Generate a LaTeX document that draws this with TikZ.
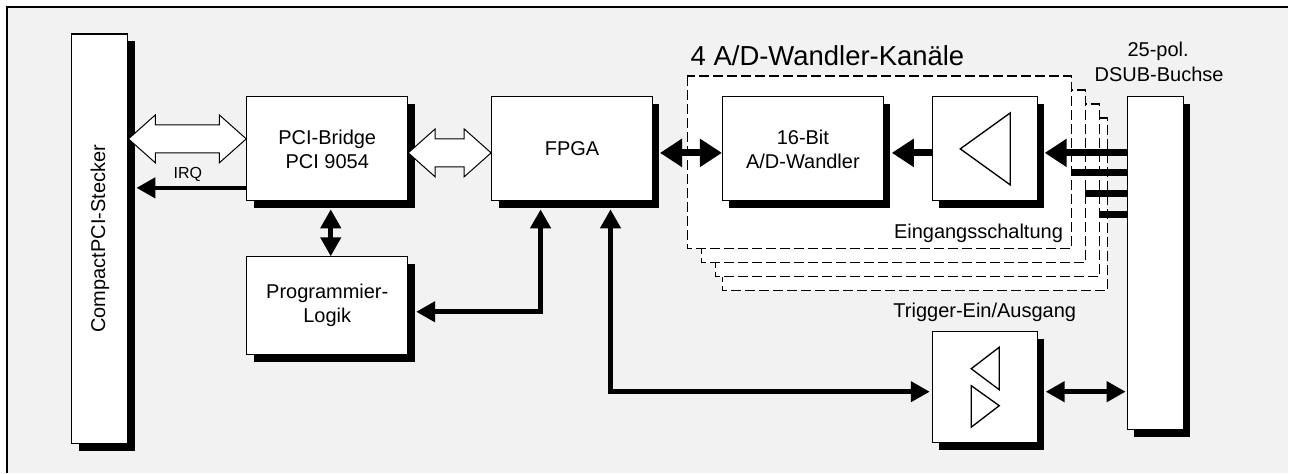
\documentclass[tikz,border=0pt]{standalone}
\usepackage{fontspec}
\setmainfont{Liberation Sans}
\usetikzlibrary{arrows.meta,shadows,calc}
\definecolor{bg}{HTML}{F2F2F2}
\tikzset{
  thinhead/.tip={Triangle[length=14.25pt,width=15pt]},
  bighead/.tip={Triangle[length=16.5pt,width=20.25pt]},
}
\begin{document}
\begin{tikzpicture}[x=0.75pt,y=-0.75pt,
  blk/.style={draw, line width=0.8pt, fill=white, inner sep=0pt, align=center,
     font=\fontsize{15}{18}\selectfont,
     general shadow={fill=black, shadow xshift=5.25pt, shadow yshift=-5.25pt}},
  chan/.style={draw, line width=0.9pt, fill=white, dash pattern=on 7.5pt off 3pt},
  ctl/.style={line width=3.4pt},
  dat/.style={line width=5.25pt},
  hollow/.style={draw, fill=white, line width=0.75pt, line join=miter},
  sym/.style={draw, line width=1pt, line join=miter},
  lbl/.style={font=\fontsize{15}{18}\selectfont, inner sep=0pt},
]
% background and frame
\fill[white] (0,0) rectangle (1289,473);
\fill[bg] (7,7) rectangle (1289,473);
\draw[line width=1.5pt] (7,473) -- (7,7) -- (1289,7);

% level coordinates
\coordinate (y139) at (0,139);
\coordinate (y153) at (0,153);
\coordinate (y173) at (0,173);
\coordinate (y188) at (0,188);
\coordinate (y194) at (0,194);
\coordinate (y215) at (0,215);
\coordinate (y312) at (0,312);
\coordinate (y392) at (0,392);
\coordinate (x331) at (331,0);
\coordinate (x541) at (541,0);
\coordinate (x611) at (611,0);

% channel boxes (back to front)
\draw[chan] (723,118) rectangle (1108,291);
\draw[chan] (716,104) rectangle (1100,277);
\draw[chan] (702,90) rectangle (1086,263);
\draw[chan] (688,76) rectangle (1072,249);
\coordinate (ch1e) at (1072,0);
\coordinate (ch2e) at (1086,0);
\coordinate (ch3e) at (1100,0);

% blocks
\node[blk, minimum width=42pt, minimum height=307.5pt] (stk) at (100,239) {};
\node[lbl, rotate=90] (stklbl) at (stk.center) {CompactPCI-Stecker};
\node[blk, minimum width=120.75pt, minimum height=78pt] (pci) at (327.5,149) {PCI-Bridge\\PCI 9054};
\node[blk, minimum width=120.75pt, minimum height=73.5pt] (prog) at (327.5,306) {Programmier-\\Logik};
\node[blk, minimum width=120.75pt, minimum height=78pt] (fpga) at (572.5,149) {FPGA};
\node[blk, minimum width=120.75pt, minimum height=78pt] (adc) at (803.5,149) {16-Bit\\A/D-Wandler};
\node[blk, minimum width=78.75pt, minimum height=78pt] (amp) at (985.5,149) {};
\node[blk, minimum width=78.75pt, minimum height=83.25pt] (trig) at (985.5,387.5) {};
\node[blk, minimum width=42pt, minimum height=249.75pt] (dsub) at (1156,263.5) {};

% symbols
\draw[sym] (961,149) -- (1011,113) -- (1011,185) -- cycle;
\draw[sym] (972,369) -- (1000,347.5) -- (1000,390) -- cycle;
\draw[sym] (972,386) -- (972,427.5) -- (1000,406) -- cycle;

% hollow bus arrows
\coordinate (h1a) at (stk.east |- y139);
\coordinate (h1b) at (pci.west |- y139);
\draw[hollow] (h1a) -- ++(27,-24) -- ++(0,10) -- ($(h1b)+(-27,-14)$) -- ++(0,-10) -- (h1b)
  -- ++(-27,24) -- ++(0,-10) -- ($(h1a)+(27,14)$) -- ++(0,10) -- cycle;
\coordinate (h2a) at (pci.east |- y153);
\coordinate (h2b) at (fpga.west |- y153);
\draw[hollow] (h2a) -- ++(27,-24) -- ++(0,10) -- ($(h2b)+(-27,-14)$) -- ++(0,-10) -- (h2b)
  -- ++(-27,24) -- ++(0,-10) -- ($(h2a)+(27,14)$) -- ++(0,10) -- cycle;

% control connectors
\draw[ctl, -thinhead] (pci.west |- y188) -- ($(stk.east |- y188)+(8,0)$);
\node[font=\fontsize{12}{14}\selectfont, anchor=base, inner sep=0pt] (irq) at (188,179) {IRQ};
\draw[ctl, thinhead-thinhead] ($(pci.south -| x331)+(0,8)$) -- (prog.north -| x331);
\draw[ctl, thinhead-thinhead] ($(fpga.south -| x541)+(0,8)$) -- (x541 |- y312) -- ($(prog.east |- y312)+(8,0)$);
\draw[ctl, thinhead-thinhead] ($(fpga.south -| x611)+(0,8)$) -- (x611 |- y392) -- ($(trig.west |- y392)+(-2,0)$);
\draw[ctl, thinhead-thinhead] ($(trig.east |- y392)+(8,0)$) -- ($(dsub.west |- y392)+(-1,0)$);

% data connectors
\draw[dat, bighead-bighead] ($(fpga.east |- y153)+(7,0)$) -- (adc.west |- y153);
\draw[dat, -bighead] (amp.west |- y153) -- ($(adc.east |- y153)+(8,0)$);
\draw[dat, -bighead] (dsub.west |- y153) -- ($(amp.east |- y153)+(7,0)$);
\draw[dat] (ch1e |- y173) -- (dsub.west |- y173);
\draw[dat] (ch2e |- y194) -- (dsub.west |- y194);
\draw[dat] (ch3e |- y215) -- (dsub.west |- y215);

% labels
\node[font=\fontsize{20.6}{24}\selectfont, anchor=base west, inner sep=0pt] (title) at (691,66) {4 A/D-Wandler-Kanäle};
\node[lbl, anchor=base east] (ein) at (1064,239) {Eingangsschaltung};
\node[lbl, anchor=base] (trg) at (985.5,318) {Trigger-Ein/Ausgang};
\node[lbl, anchor=base] (pol) at (1159,57) {25-pol.};
\node[lbl, anchor=base] (dsb) at (1160,82) {DSUB-Buchse};
\end{tikzpicture}
\end{document}
